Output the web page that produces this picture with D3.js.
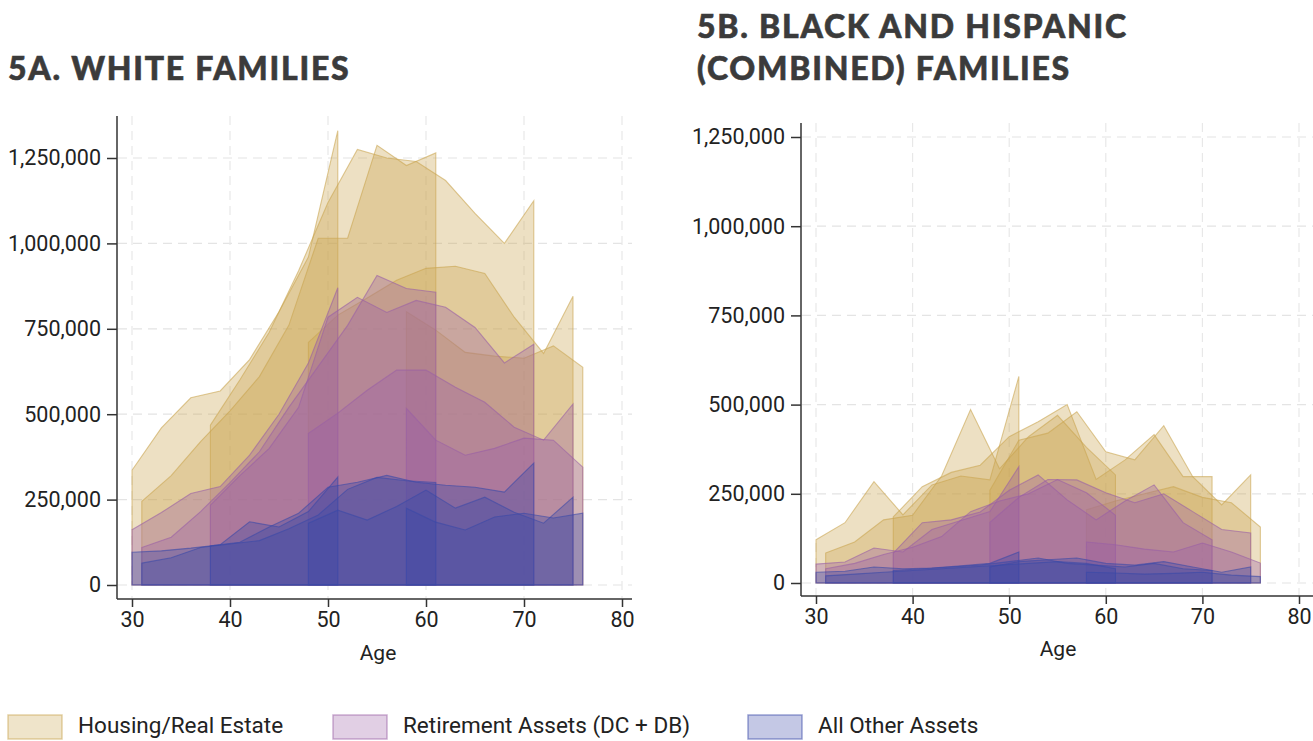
<!DOCTYPE html>
<html><head><meta charset="utf-8">
<script src="https://cdn.jsdelivr.net/npm/d3@7"></script>
<style>body{margin:0;background:#fff;} svg{display:block;font-family:Roboto,"Noto Sans",sans-serif;}</style>
</head><body><svg id="c" width="1313" height="741"></svg>
<script>
// Cohorts: first and last observed age (observations every 3 years)
const cohortStart = [30, 31, 38, 48, 58];
const cohortEnd   = [51, 61, 71, 75, 76];
const ageStep = 3;

// 5A White families — cumulative tops (dollars, thousands): total, retirement+other, other
const whiteTotal = [
  [336, 460, 548, 568, 660, 800, 960, 1330],
  [245, 320, 420, 510, 610, 760, 1015, 1015, 1287, 1228, 1265],
  [468, 600, 740, 920, 1120, 1275, 1250, 1240, 1184, 1088, 1000, 1125],
  [710, 790, 840, 892, 927, 933, 912, 784, 678, 845],
  [800, 746, 681, 670, 664, 700, 637]
];
const whiteRetPlusOther = [
  [162, 212, 268, 288, 380, 500, 650, 870],
  [110, 140, 215, 300, 390, 520, 640, 760, 906, 868, 857],
  [234, 320, 400, 520, 784, 842, 798, 833, 813, 754, 650, 705],
  [444, 503, 570, 629, 629, 579, 535, 462, 424, 530],
  [517, 424, 380, 400, 430, 424, 345]
];
const whiteOther = [
  [96, 100, 108, 118, 185, 170, 215, 316],
  [64, 80, 110, 120, 130, 165, 205, 280, 315, 305, 300],
  [115, 125, 170, 210, 286, 301, 321, 301, 292, 286, 272, 357],
  [181, 219, 190, 230, 278, 225, 257, 213, 181, 257],
  [225, 184, 161, 199, 210, 196, 210]
];

// 5B Black and Hispanic (combined) families
const bhTotal = [
  [121, 169, 284, 191, 275, 300, 289, 579],
  [84, 115, 177, 190, 300, 486, 320, 410, 470, 380, 303],
  [185, 270, 310, 330, 410, 452, 500, 290, 345, 416, 298, 298],
  [260, 400, 420, 480, 368, 345, 441, 298, 219, 303],
  [205, 230, 250, 270, 240, 225, 157]
];
const bhRetPlusOther = [
  [53, 59, 98, 87, 150, 175, 200, 326],
  [40, 55, 80, 100, 130, 200, 230, 250, 290, 253, 190],
  [84, 169, 177, 199, 260, 303, 233, 177, 230, 275, 169, 121],
  [170, 240, 290, 289, 253, 225, 250, 200, 150, 140],
  [115, 107, 95, 87, 112, 87, 56]
];
const bhOther = [
  [30, 33, 45, 40, 42, 48, 55, 87],
  [20, 25, 30, 35, 40, 45, 50, 55, 60, 55, 40],
  [35, 40, 45, 50, 60, 70, 55, 50, 45, 55, 40, 35],
  [45, 60, 65, 70, 55, 50, 60, 45, 30, 45],
  [30, 28, 25, 27, 30, 22, 18]
];

const yTicks = [0, 250000, 500000, 750000, 1000000, 1250000];
const xTicks = [30, 40, 50, 60, 70, 80];
const legendLabels = ["Housing/Real Estate", "Retirement Assets (DC + DB)", "All Other Assets"];
const layerColors = ["#c9a550", "#9a5fa6", "#3a4aa8"];

const svg = d3.select("#c");

function drawPanel(cfg) {
  const g = svg.append("g");
  const x = d3.scaleLinear().domain([30, 80]).range([cfg.x30, cfg.x80]);
  const y = d3.scaleLinear().domain([0, 1250000]).range([cfg.y0, cfg.y125]);

  // grid
  g.append("g").selectAll("line").data(yTicks).join("line")
    .attr("x1", cfg.axisX + 1).attr("x2", cfg.right)
    .attr("y1", d => y(d)).attr("y2", d => y(d))
    .attr("stroke", "#e4e4e4").attr("stroke-width", 1.2).attr("stroke-dasharray", "9,6");
  g.append("g").selectAll("line").data(xTicks).join("line")
    .attr("x1", d => x(d)).attr("x2", d => x(d))
    .attr("y1", cfg.top).attr("y2", cfg.axisY - 1)
    .attr("stroke", "#e8e8e8").attr("stroke-width", 1.2).attr("stroke-dasharray", "9,6");

  const layers = [cfg.total, cfg.retPlus, cfg.other];
  const area = d3.area().x(d => x(d.age)).y0(y(0)).y1(d => y(d.v * 1000)).curve(d3.curveLinear);
  layers.forEach((layer, li) => {
    layer.forEach((vals, ci) => {
      const ages = d3.range(cohortStart[ci], cohortEnd[ci] + 1, ageStep);
      const pts = vals.map((v, i) => ({age: ages[i], v}));
      g.append("path").datum(pts).attr("d", area)
        .attr("fill", layerColors[li]).attr("fill-opacity", 0.34)
        .attr("stroke", layerColors[li]).attr("stroke-opacity", 0.6).attr("stroke-width", 1.1)
        .attr("stroke-linejoin", "miter");
    });
  });

  // axes
  const yAxis = d3.axisLeft(y).tickValues(yTicks).tickSize(10).tickPadding(6).tickFormat(d3.format(","));
  const ya = g.append("g").attr("transform", `translate(${cfg.axisX},0)`).call(yAxis);
  ya.select(".domain").attr("d", `M0,${cfg.top}V${cfg.axisY}`);
  const xAxis = d3.axisBottom(x).tickValues(xTicks).tickSize(8).tickPadding(5);
  const xa = g.append("g").attr("transform", `translate(0,${cfg.axisY})`).call(xAxis);
  xa.select(".domain").attr("d", `M${cfg.axisX},0H${cfg.right}`);
  [ya, xa].forEach(a => {
    a.selectAll(".domain").attr("stroke", "#333").attr("stroke-width", 1.5);
    a.selectAll(".tick line").attr("stroke", "#333").attr("stroke-width", 1.5);
    a.selectAll("text").attr("fill", "#222").attr("font-size", 21.5).attr("font-family", "Roboto");
  });
  g.append("text").attr("x", cfg.ageX).attr("y", cfg.ageY).attr("text-anchor", "middle")
    .attr("font-size", 21).attr("fill", "#222").text("Age");

  // titles
  cfg.title.forEach((t, i) => {
    g.append("text").attr("x", cfg.titleX).attr("y", cfg.titleY[i])
      .attr("font-family", "Lato").attr("font-weight", 900).attr("font-size", 32)
      .attr("letter-spacing", 1.75).attr("fill", "#3b3b3b")
      .attr("stroke", "#3b3b3b").attr("stroke-width", 0.6).text(t);
  });
}

drawPanel({
  x30: 132, x80: 622, y0: 585, y125: 158, axisX: 117, axisY: 599, top: 116, right: 632,
  ageX: 378, ageY: 660, titleX: 8, titleY: [80],
  title: ["5A. WHITE FAMILIES"],
  total: whiteTotal, retPlus: whiteRetPlusOther, other: whiteOther
});
drawPanel({
  x30: 816, x80: 1299, y0: 583, y125: 137, axisX: 801, axisY: 596, top: 123, right: 1313,
  ageX: 1058, ageY: 656, titleX: 697, titleY: [38, 80],
  title: ["5B. BLACK AND HISPANIC", "(COMBINED) FAMILIES"],
  total: bhTotal, retPlus: bhRetPlusOther, other: bhOther
});

// legend
const legX = [8, 333, 748];
const lg = svg.append("g");
legendLabels.forEach((lab, i) => {
  lg.append("rect").attr("x", legX[i]).attr("y", 715).attr("width", 54).attr("height", 24)
    .attr("fill", layerColors[i]).attr("fill-opacity", 0.3)
    .attr("stroke", layerColors[i]).attr("stroke-opacity", 0.5).attr("stroke-width", 1.5);
  lg.append("text").attr("x", legX[i] + 70).attr("y", 733).attr("font-size", 22.5)
    .attr("font-family", "Roboto").attr("fill", "#222").text(lab);
});
</script>
</body></html>
